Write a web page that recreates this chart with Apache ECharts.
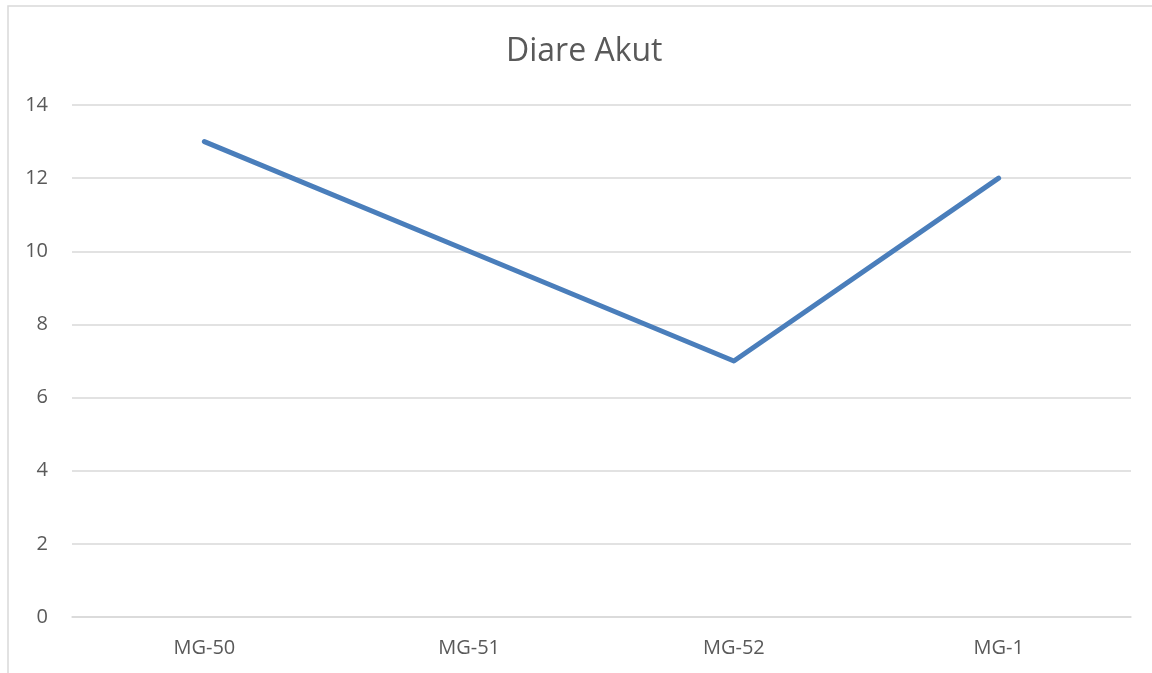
<!DOCTYPE html>
<html>
<head>
<meta charset="utf-8">
<script src="https://cdn.jsdelivr.net/npm/echarts@6/dist/echarts.min.js"></script>
<style>
html,body{margin:0;padding:0;background:#fff;}
#c{width:1152px;height:673px;}
</style>
</head>
<body>
<div id="c"></div>
<script>
const title = 'Diare Akut';
const categories = ['MG-50', 'MG-51', 'MG-52', 'MG-1'];
const values = [13, 10, 7, 12];
const yMin = 0, yMax = 14, yStep = 2;

const chart = echarts.init(document.getElementById('c'));
chart.setOption({
  animation: false,
  backgroundColor: '#ffffff',
  graphic: [{
    type: 'rect',
    shape: { x: 8, y: 6, width: 1300, height: 800 },
    style: { fill: 'none', stroke: '#d9d9d9', lineWidth: 1.5 },
    silent: true
  }],
  title: {
    text: title,
    left: 501,
    top: 31,
    textStyle: { fontFamily: 'Open Sans', fontWeight: 'normal', fontSize: 32, color: '#595959' }
  },
  grid: { left: 72, right: 21, top: 105, bottom: 56, containLabel: false },
  xAxis: {
    type: 'category',
    data: categories,
    boundaryGap: true,
    axisLine: { show: true, lineStyle: { color: '#d9d9d9', width: 1.5 } },
    axisTick: { show: false },
    axisLabel: { color: '#595959', fontFamily: 'Open Sans', fontSize: 20, margin: 21 }
  },
  yAxis: {
    type: 'value',
    min: yMin, max: yMax, interval: yStep,
    axisLine: { show: false },
    axisTick: { show: false },
    splitLine: { lineStyle: { color: '#d9d9d9', width: 1.5 } },
    axisLabel: { color: '#595959', fontFamily: 'Open Sans', fontSize: 20, margin: 24 }
  },
  series: [{
    type: 'line',
    data: values,
    symbol: 'none',
    lineStyle: { color: '#4a7ebb', width: 5, cap: 'round', join: 'round' }
  }]
});
</script>
</body>
</html>
